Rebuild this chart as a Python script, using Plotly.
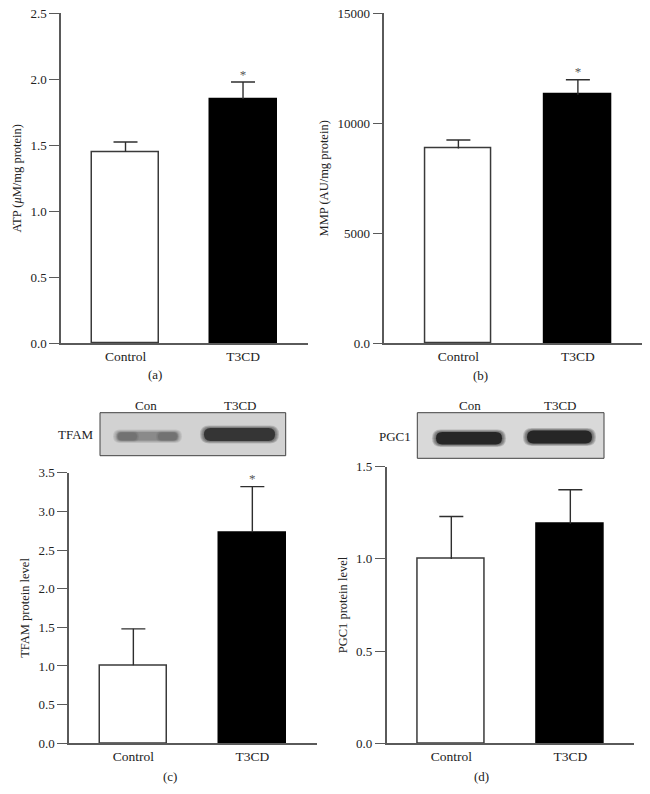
import plotly.graph_objects as go

# ---------------- data ----------------
categories = ["Control", "T3CD"]

atp = [1.45, 1.85]
atp_err = [0.075, 0.13]
atp_star = ["", "*"]

mmp = [8850, 11300]
mmp_err = [390, 680]
mmp_star = ["", "*"]

tfam = [1.01, 2.73]
tfam_err = [0.47, 0.59]
tfam_star = ["", "*"]

pgc1 = [1.00, 1.19]
pgc1_err = [0.23, 0.185]
pgc1_star = ["", ""]

atp_ticks = [0.0, 0.5, 1.0, 1.5, 2.0, 2.5]
atp_ticktext = ["0.0", "0.5", "1.0", "1.5", "2.0", "2.5"]
mmp_ticks = [0, 5000, 10000, 15000]
mmp_ticktext = ["0.0", "5000", "10000", "15000"]
tfam_ticks = [0.0, 0.5, 1.0, 1.5, 2.0, 2.5, 3.0, 3.5]
tfam_ticktext = ["0.0", "0.5", "1.0", "1.5", "2.0", "2.5", "3.0", "3.5"]
pgc1_ticks = [0.0, 0.5, 1.0, 1.5]
pgc1_ticktext = ["0.0", "0.5", "1.0", "1.5"]

blot_lanes = ["Con", "T3CD"]

# ---------------- layout helpers ----------------
W, H = 650, 794
FONT = "Liberation Serif, Times New Roman, DejaVu Serif, serif"
AXC = "#5a5a5a"


def px(x):
    return x / W


def py(y):
    return 1 - y / H


fig = go.Figure()

panels = [
    dict(vals=atp, err=atp_err, star=atp_star, ticks=atp_ticks, tt=atp_ticktext,
         yr=[0, 2.5], title="ATP (<i>μ</i>M/mg protein)",
         xd=(61, 308), yd=(13.3, 343.3), xr=[-0.549, 1.553], bw=0.57, ax=""),
    dict(vals=mmp, err=mmp_err, star=mmp_star, ticks=mmp_ticks, tt=mmp_ticktext,
         yr=[0, 15000], title="MMP (AU/mg protein)",
         xd=(384.3, 641.7), yd=(13.3, 343.3), xr=[-0.62, 1.534], bw=0.558, ax="2"),
    dict(vals=tfam, err=tfam_err, star=tfam_star, ticks=tfam_ticks, tt=tfam_ticktext,
         yr=[0, 3.5], title="TFAM protein level",
         xd=(69, 316.7), yd=(472.7, 743.3), xr=[-0.541, 1.541], bw=0.56, ax="3"),
    dict(vals=pgc1, err=pgc1_err, star=pgc1_star, ticks=pgc1_ticks, tt=pgc1_ticktext,
         yr=[0, 1.5], title="PGC1 protein level",
         xd=(386.7, 634), yd=(466.7, 743.3), xr=[-0.543, 1.535], bw=0.566, ax="4"),
]

CAP_PX = 12  # half-width of error caps in pixels
xpos = list(range(len(categories)))

layout_axes = {}
for p in panels:
    ax = p["ax"]
    xa, ya = "x" + ax, "y" + ax
    fig.add_trace(go.Bar(
        x=xpos, y=p["vals"], xaxis=xa, yaxis=ya, width=p["bw"],
        marker=dict(color=["white", "black"],
                    line=dict(color=["#3a3a3a", "black"], width=1.5)),
        showlegend=False, hoverinfo="skip",
    ))
    # one-sided (upper) error bars: stem + top cap
    span_px = p["xd"][1] - p["xd"][0]
    cap = CAP_PX * (p["xr"][1] - p["xr"][0]) / span_px
    ex, ey = [], []
    for i, (v, e) in zip(xpos, zip(p["vals"], p["err"])):
        ex += [i, i, None, i - cap, i + cap, None]
        ey += [v, v + e, None, v + e, v + e, None]
    fig.add_trace(go.Scatter(
        x=ex, y=ey, xaxis=xa, yaxis=ya, mode="lines",
        line=dict(color="#2e2e2e", width=1.4),
        showlegend=False, hoverinfo="skip", cliponaxis=False,
    ))
    tops = [v + e for v, e in zip(p["vals"], p["err"])]
    fig.add_trace(go.Scatter(
        x=xpos, y=tops, xaxis=xa, yaxis=ya, mode="text",
        text=p["star"], textposition="top center",
        textfont=dict(family=FONT, size=13, color="#555555"),
        showlegend=False, hoverinfo="skip", cliponaxis=False,
    ))
    layout_axes["xaxis" + ax] = dict(
        domain=[px(p["xd"][0]), px(p["xd"][1])], range=p["xr"],
        anchor=ya, showline=True, linecolor=AXC, linewidth=1.5,
        tickvals=xpos, ticktext=categories,
        ticks="", showgrid=False, zeroline=False, fixedrange=True,
        automargin=False,
        tickfont=dict(family=FONT, size=13.5, color="#222"),
    )
    layout_axes["yaxis" + ax] = dict(
        domain=[py(p["yd"][1]), py(p["yd"][0])], range=p["yr"],
        anchor=xa, showline=True, linecolor=AXC, linewidth=1.5,
        ticks="outside", ticklen=10, tickwidth=1.3, tickcolor=AXC,
        tickvals=p["ticks"], ticktext=p["tt"],
        showgrid=False, zeroline=False, fixedrange=True, automargin=False,
        tickfont=dict(family=FONT, size=13, color="#222"),
        title=dict(text=p["title"], standoff=6,
                   font=dict(family=FONT, size=12.5, color="#222")),
    )

# ---------------- blots (decorative images) ----------------
shapes = []


def rrect(x0, x1, y0, y1, color, opacity=1.0):
    r = min((y1 - y0) / 2, (x1 - x0) / 2)
    pts = [
        ("M", x0 + r, y0), ("L", x1 - r, y0),
        ("Q", x1, y0, x1, y0 + r), ("L", x1, y1 - r),
        ("Q", x1, y1, x1 - r, y1), ("L", x0 + r, y1),
        ("Q", x0, y1, x0, y1 - r), ("L", x0, y0 + r),
        ("Q", x0, y0, x0 + r, y0),
    ]
    s = ""
    for seg in pts:
        coords = seg[1:]
        cs = [f"{px(coords[i]):.5f},{py(coords[i + 1]):.5f}"
              for i in range(0, len(coords), 2)]
        s += seg[0] + " " + " ".join(cs) + " "
    s += "Z"
    shapes.append(dict(type="path", path=s, xref="paper", yref="paper",
                       fillcolor=color, opacity=opacity, line=dict(width=0)))


def box(x0, x1, y0, y1, fill):
    shapes.append(dict(type="rect", xref="paper", yref="paper",
                       x0=px(x0), x1=px(x1), y0=py(y1), y1=py(y0),
                       fillcolor=fill, line=dict(color="#404040", width=1)))


def soft_band(x0, x1, y0, y1, color, layers=4, spread=4.0, core_op=0.9):
    # blurred band: several growing translucent layers
    for k in range(layers, 0, -1):
        d = spread * k / layers
        rrect(x0 - d, x1 + d, y0 - d * 0.6, y1 + d * 0.6, color, 0.18)
    rrect(x0, x1, y0, y1, color, core_op)


# TFAM blot
box(100, 285.7, 412.7, 455.7, "#d2d2d2")
soft_band(117, 178, 432, 440.5, "#7c7c7c", core_op=0.6)
soft_band(118, 137, 432.5, 440.5, "#626262", layers=2, spread=2, core_op=0.4)
soft_band(158, 177, 432.5, 440.5, "#626262", layers=2, spread=2, core_op=0.4)
soft_band(204, 275, 428, 441, "#2a2a2a", core_op=0.85)

# PGC1 blot
box(417.3, 604, 412.7, 458.3, "#d9d9d9")
soft_band(436, 502, 432, 444.5, "#1e1e1e", core_op=0.9)
soft_band(527, 592, 430.5, 443.5, "#1e1e1e", core_op=0.9)

annotations = []


def label(text, x, y, size=13, anchor="center"):
    annotations.append(dict(text=text, x=px(x), y=py(y), xref="paper", yref="paper",
                            showarrow=False, xanchor=anchor, yanchor="middle",
                            font=dict(family=FONT, size=size, color="#222")))


label(blot_lanes[0], 146, 405)
label(blot_lanes[1], 240, 405)
label("TFAM", 96, 434, anchor="right")
label(blot_lanes[0], 470, 405)
label(blot_lanes[1], 560, 405)
label("PGC1", 413, 436, anchor="right")

# panel captions
label("(a)", 155, 374)
label("(b)", 480, 375)
label("(c)", 170, 776)
label("(d)", 481, 776)

fig.update_layout(
    width=W, height=H, margin=dict(l=0, r=0, t=0, b=0, autoexpand=False),
    paper_bgcolor="white", plot_bgcolor="white",
    shapes=shapes, annotations=annotations, bargap=0,
    **layout_axes,
)

fig.write_html("out.html",
               config={"displayModeBar": False},
               post_script="document.body.style.margin='0';")
